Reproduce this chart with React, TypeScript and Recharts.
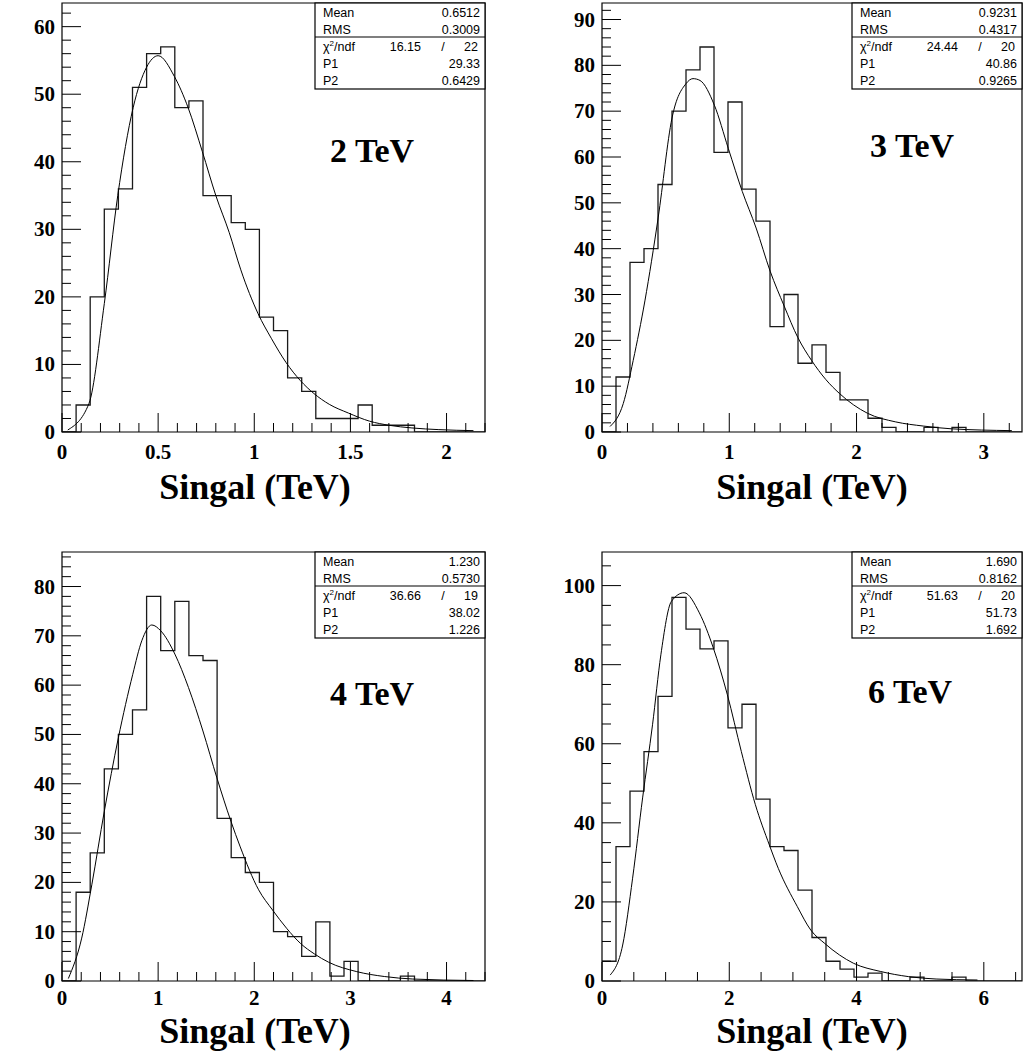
import React from 'react';
import { ComposedChart, Line, XAxis, YAxis, ReferenceArea } from 'recharts';

// bin contents, 30 equal bins from 0 to 1.1 * beam energy
const hist2TeV = [0, 4, 20, 33, 36, 51, 56, 57, 48, 49, 35, 35, 31, 30, 17, 15, 8, 6, 2, 2, 2, 4, 1, 1, 1, 0, 0, 0, 0, 0];
const hist3TeV = [0, 12, 37, 40, 54, 70, 79, 84, 61, 72, 53, 46, 23, 30, 15, 19, 13, 7, 7, 3, 1, 0, 0, 1, 0, 1, 0, 0, 0, 0];
const hist4TeV = [0, 18, 26, 43, 50, 55, 78, 67, 77, 66, 65, 33, 25, 22, 20, 10, 9, 5, 12, 1, 4, 0, 0, 0, 1, 0, 0, 0, 0, 0];
const hist6TeV = [5, 34, 48, 58, 72, 97, 89, 84, 86, 64, 70, 46, 34, 33, 23, 11, 5, 3, 1, 2, 0, 0, 1, 0, 0, 1, 0, 0, 0, 0];

// fit curves, sampled as [x, y]
const fit2TeV: [number, number][] = [
  [0.03, 0.3], [0.14, 4.2], [0.22, 19], [0.29, 35], [0.37, 48], [0.44, 54], [0.5, 55.7],
  [0.585, 52.6], [0.656, 48], [0.73, 41.5], [0.8, 35], [0.87, 29.5], [0.93, 24], [1.02, 17.5],
  [1.09, 13.8], [1.165, 10.3], [1.24, 7.6], [1.31, 5.7], [1.39, 4.1], [1.49, 2.8], [1.6, 1.6],
  [1.7, 1.0], [1.82, 0.6], [1.96, 0.35], [2.14, 0.2],
];
const fit3TeV: [number, number][] = [
  [0.063, 1.2], [0.167, 6.2], [0.245, 15.6], [0.337, 28.6], [0.441, 46.7], [0.55, 68.5],
  [0.66, 76], [0.715, 77.1], [0.77, 76.7], [0.883, 71.3], [0.992, 61.9], [1.102, 52.5],
  [1.211, 44.5], [1.321, 35.1], [1.431, 27.5], [1.539, 20.6], [1.647, 15.6], [1.757, 11.5],
  [1.866, 8.4], [2.085, 4.1], [2.308, 2.2], [2.524, 1.3], [2.743, 0.7], [3.22, 0.3],
];
const fit4TeV: [number, number][] = [
  [0.066, 0.5], [0.205, 8.7], [0.31, 19.5], [0.44, 34.4], [0.586, 49.3], [0.736, 62.2],
  [0.83, 69], [0.934, 72.2], [1.028, 71], [1.174, 66.3], [1.316, 59.5], [1.466, 50.7],
  [1.611, 41.2], [1.757, 32.4], [1.854, 27.2], [2.045, 18.5], [2.19, 14.4], [2.336, 10.7],
  [2.482, 7.6], [2.625, 5.5], [2.774, 3.8], [3.066, 1.9], [3.357, 0.9], [3.649, 0.4], [4.28, 0.1],
];
const fit6TeV: [number, number][] = [
  [0.128, 1.5], [0.325, 9.1], [0.481, 26], [0.638, 46.3], [0.794, 64.8], [0.925, 82.5],
  [1.09, 96], [1.29, 98.2], [1.53, 93.1], [1.75, 84.2], [1.97, 72.4], [2.19, 58],
  [2.41, 44.6], [2.63, 34.4], [2.77, 28.5], [3.07, 18.8], [3.28, 12.9], [3.5, 9.5],
  [3.73, 6.6], [3.95, 4.5], [4.38, 2.4], [4.82, 1.1], [5.25, 0.5], [5.9, 0.25],
];

// labelled axis ticks
const xLabels2TeV = [0, 0.5, 1, 1.5, 2];
const xLabels3TeV = [0, 1, 2, 3];
const xLabels4TeV = [0, 1, 2, 3, 4];
const xLabels6TeV = [0, 2, 4, 6];
const yLabels2TeV = [0, 10, 20, 30, 40, 50, 60];
const yLabels3TeV = [0, 10, 20, 30, 40, 50, 60, 70, 80, 90];
const yLabels4TeV = [0, 10, 20, 30, 40, 50, 60, 70, 80];
const yLabels6TeV = [0, 20, 40, 60, 80, 100];

// statistics box entries: mean, rms, chi2, ndf, p1, p2
const stats2TeV = ['0.6512', '0.3009', '16.15', '22', '29.33', '0.6429'];
const stats3TeV = ['0.9231', '0.4317', '24.44', '20', '40.86', '0.9265'];
const stats4TeV = ['1.230', '0.5730', '36.66', '19', '38.02', '1.226'];
const stats6TeV = ['1.690', '0.8162', '51.63', '20', '51.73', '1.692'];

const SERIF = '"Liberation Serif", "Times New Roman", serif';
const SANS = '"Liberation Sans", Arial, sans-serif';

type Panel = {
  name: string;
  left: number; top: number; w: number; h: number;
  xMax: number; yMax: number;
  xLabels: number[]; xMinor: number;
  yLabels: number[]; yMinor: number;
  hist: number[]; fit: [number, number][]; stats: string[];
  tag: [number, number];
  title: [number, number];
};

const panels: Panel[] = [
  { name: '2 TeV', left: 62, top: 3, w: 423, h: 429, xMax: 2.2, yMax: 63.5, xLabels: xLabels2TeV, xMinor: 0.1,
    yLabels: yLabels2TeV, yMinor: 2, hist: hist2TeV, fit: fit2TeV, stats: stats2TeV, tag: [330, 162], title: [255, 499] },
  { name: '3 TeV', left: 602, top: 3, w: 420, h: 429, xMax: 3.3, yMax: 93.6, xLabels: xLabels3TeV, xMinor: 0.2,
    yLabels: yLabels3TeV, yMinor: 2, hist: hist3TeV, fit: fit3TeV, stats: stats3TeV, tag: [870, 157], title: [812, 499] },
  { name: '4 TeV', left: 62, top: 552, w: 423, h: 429, xMax: 4.4, yMax: 87, xLabels: xLabels4TeV, xMinor: 0.2,
    yLabels: yLabels4TeV, yMinor: 2, hist: hist4TeV, fit: fit4TeV, stats: stats4TeV, tag: [330, 705], title: [255, 1043] },
  { name: '6 TeV', left: 602, top: 552, w: 420, h: 429, xMax: 6.6, yMax: 108.5, xLabels: xLabels6TeV, xMinor: 0.5,
    yLabels: yLabels6TeV, yMinor: 5, hist: hist6TeV, fit: fit6TeV, stats: stats6TeV, tag: [868, 703], title: [812, 1043] },
];

const Y_AXIS_W = 62;
const X_AXIS_H = 90;
const M_TOP = 10;
const M_RIGHT = 10;

const round = (v: number) => Math.round(v * 1e6) / 1e6;

function tickRange(max: number, step: number) {
  const out: number[] = [];
  for (let k = 0; k * step <= max + 1e-9; k++) out.push(round(k * step));
  return out;
}

const isLabelled = (v: number, labels: number[]) => labels.some((l) => Math.abs(l - v) < 1e-6);

// histogram outline as step points on the bin edges
function histPoints(counts: number[], xMax: number) {
  const w = xMax / counts.length;
  const pts = counts.map((c, i) => ({ x: round(i * w), y: c }));
  pts.push({ x: xMax, y: counts[counts.length - 1] });
  return pts;
}

function HistPanel({ p }: { p: Panel }) {
  const axisY = M_TOP + p.h;
  const axisX = Y_AXIS_W;
  const hist = histPoints(p.hist, p.xMax);
  const fit = p.fit.map(([x, y]) => ({ x, y }));
  const labelDy = p.top > 100 ? 24 : 27;

  const xTick = (props: any) => {
    const { x, payload } = props;
    const major = isLabelled(payload.value, p.xLabels);
    return (
      <g>
        <line x1={x} x2={x} y1={axisY} y2={axisY - (major ? 19 : 9)} stroke="#000" strokeWidth={1} />
        {major && (
          <text x={x} y={axisY + labelDy} textAnchor="middle" fontFamily={SERIF} fontWeight="bold" fontSize={21} fill="#000">
            {String(payload.value)}
          </text>
        )}
      </g>
    );
  };

  const yTick = (props: any) => {
    const { y, payload } = props;
    const major = isLabelled(payload.value, p.yLabels);
    return (
      <g>
        <line x1={axisX} x2={axisX + (major ? 19 : 9)} y1={y} y2={y} stroke="#000" strokeWidth={1} />
        {major && (
          <text x={axisX - 7} y={y + 7} textAnchor="end" fontFamily={SERIF} fontWeight="bold" fontSize={21} fill="#000">
            {String(payload.value)}
          </text>
        )}
      </g>
    );
  };

  return (
    <div style={{ position: 'absolute', left: p.left - Y_AXIS_W, top: p.top - M_TOP }}>
      <ComposedChart
        width={p.w + Y_AXIS_W + M_RIGHT}
        height={p.h + M_TOP + X_AXIS_H}
        margin={{ top: M_TOP, right: M_RIGHT, left: 0, bottom: 0 }}
      >
        <XAxis
          dataKey="x"
          type="number"
          domain={[0, p.xMax]}
          allowDataOverflow
          ticks={tickRange(p.xMax, p.xMinor)}
          interval={0}
          tick={xTick}
          tickLine={false}
          axisLine={false}
          tickSize={0}
          height={X_AXIS_H}
        />
        <YAxis
          type="number"
          domain={[0, p.yMax]}
          allowDataOverflow
          ticks={tickRange(p.yMax, p.yMinor)}
          interval={0}
          tick={yTick}
          tickLine={false}
          axisLine={false}
          tickSize={0}
          width={Y_AXIS_W}
        />
        <ReferenceArea x1={0} x2={p.xMax} y1={0} y2={p.yMax} fill="none" stroke="#000" strokeWidth={1.2} />
        <Line data={hist} dataKey="y" type="stepAfter" stroke="#1a1a1a" strokeWidth={1.3} dot={false} isAnimationActive={false} />
        <Line data={fit} dataKey="y" type="monotone" stroke="#000" strokeWidth={1} dot={false} isAnimationActive={false} />
      </ComposedChart>
    </div>
  );
}

function StatsBox({ p }: { p: Panel }) {
  const right = p.left + p.w;
  const bw = 170;
  const bh = 86;
  const left = right - bw;
  const top = p.top;
  const [mean, rms, chi2, ndf, p1, p2] = p.stats;
  const rows: [number, string, string][] = [
    [top + 14, 'Mean', mean],
    [top + 31, 'RMS', rms],
    [top + 65, 'P1', p1],
    [top + 82, 'P2', p2],
  ];
  return (
    <g fontFamily={SANS} fontSize={12.5} fill="#000">
      <rect x={left} y={top} width={bw} height={bh} fill="#fff" stroke="#000" strokeWidth={1.2} />
      <line x1={left} x2={right} y1={top + 34} y2={top + 34} stroke="#000" strokeWidth={1.2} />
      {rows.map(([y, label, value]) => (
        <g key={label}>
          <text x={left + 8} y={y}>{label}</text>
          <text x={right - 5} y={y} textAnchor="end">{value}</text>
        </g>
      ))}
      <text x={left + 8} y={top + 48}>
        χ<tspan fontSize={8} dy={-5}>2</tspan><tspan dy={5}>/ndf</tspan>
      </text>
      <text x={right - 64} y={top + 48} textAnchor="end">{chi2}</text>
      <text x={right - 42} y={top + 48} textAnchor="middle">/</text>
      <text x={right - 7} y={top + 48} textAnchor="end">{ndf}</text>
    </g>
  );
}

export default function App() {
  return (
    <div style={{ position: 'absolute', left: 0, top: 0, width: 1027, height: 1052, background: '#fff' }}>
      {panels.map((p) => (
        <HistPanel key={p.name} p={p} />
      ))}
      <svg width={1027} height={1052} style={{ position: 'absolute', left: 0, top: 0, pointerEvents: 'none' }}>
        {panels.map((p) => (
          <g key={p.name}>
            <StatsBox p={p} />
            <text x={p.tag[0]} y={p.tag[1]} fontFamily={SERIF} fontWeight="bold" fontSize={34} fill="#000">
              {p.name}
            </text>
            <text
              x={p.title[0]}
              y={p.title[1]}
              textAnchor="middle"
              fontFamily={SERIF}
              fontWeight="bold"
              fontSize={36}
              fill="#000"
            >
              Singal (TeV)
            </text>
          </g>
        ))}
      </svg>
    </div>
  );
}
